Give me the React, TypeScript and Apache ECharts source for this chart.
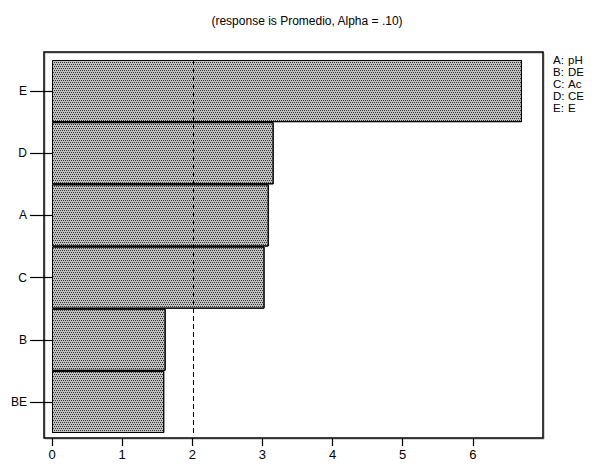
import React, { useEffect, useRef } from "react";
import * as echarts from "echarts";

const categories = ["E", "D", "A", "C", "B", "BE"];
const effects = [6.7, 3.16, 3.09, 3.03, 1.62, 1.6];
const referenceLine = 2.01;
const xTicks = [0, 1, 2, 3, 4, 5, 6];
const legendKeys = ["A:", "B:", "C:", "D:", "E:"];
const legendNames = ["pH", "DE", "Ac", "CE", "E"];
const titleText = "(response is Promedio, Alpha = .10)";

const FONT = "'Liberation Sans', Arial, sans-serif";

export default function App() {
  const ref = useRef<HTMLDivElement>(null);
  useEffect(() => {
    document.body.style.margin = "0";
    const chart = echarts.init(ref.current!, null, { renderer: "svg" });
    chart.setOption({
      animation: false,
      backgroundColor: "#fff",
      title: {
        text: titleText,
        left: 302,
        textAlign: "center",
        top: 10,
        textStyle: { fontFamily: FONT, fontSize: 12, fontWeight: "normal", color: "#000" },
      },
      grid: { left: 52, right: 64, top: 60, bottom: 33 },
      xAxis: {
        type: "value",
        min: 0,
        max: 7,
        interval: 1,
        offset: 5,
        splitLine: { show: false },
        axisLine: { show: false },
        axisTick: { show: true, length: 8, customValues: xTicks, lineStyle: { color: "#000", width: 1.2 } },
        axisLabel: {
          customValues: xTicks,
          margin: 10,
          fontFamily: FONT,
          fontSize: 13,
          color: "#000",
        },
      },
      yAxis: {
        type: "category",
        data: categories,
        inverse: true,
        offset: 8,
        axisLine: { show: false },
        axisTick: { show: true, alignWithLabel: true, length: 22, lineStyle: { color: "#000", width: 1.2 } },
        axisLabel: { margin: 17, fontFamily: FONT, fontSize: 12, color: "#000" },
      },
      graphic: [
        {
          type: "rect",
          shape: { x: 45, y: 53, width: 499, height: 386 },
          style: { fill: "none", stroke: "#aaa", lineWidth: 1 },
          silent: true,
        },
        {
          type: "rect",
          shape: { x: 44, y: 52, width: 499, height: 386 },
          style: { fill: "none", stroke: "#000", lineWidth: 1.5 },
          silent: true,
        },
        {
          type: "text",
          x: 553,
          y: 54,
          style: { text: legendKeys.join("\n"), fontFamily: FONT, fontSize: 11.5, lineHeight: 12, fill: "#000" },
        },
        {
          type: "text",
          x: 568,
          y: 54,
          style: { text: legendNames.join("\n"), fontFamily: FONT, fontSize: 11.5, lineHeight: 12, fill: "#000" },
        },
      ],
      series: [
        {
          type: "bar",
          data: effects,
          barCategoryGap: "0%",
          itemStyle: {
            color: "#c0c0c0",
            borderColor: "#000",
            borderWidth: 1,
            decal: {
              symbol: "rect",
              symbolSize: 1,
              color: "#333",
              backgroundColor: "#e2e2e2",
              dashArrayX: [[1, 1], [0, 1, 1, 0]],
              dashArrayY: [1, 1],
              rotation: 0,
            },
          },
          markLine: {
            silent: true,
            symbol: "none",
            label: { show: false },
            lineStyle: { color: "#000", type: [5, 3], width: 1 },
            data: [{ xAxis: referenceLine }],
          },
        },
      ],
    });
    return () => chart.dispose();
  }, []);
  return <div ref={ref} style={{ width: 607, height: 466 }} />;
}
